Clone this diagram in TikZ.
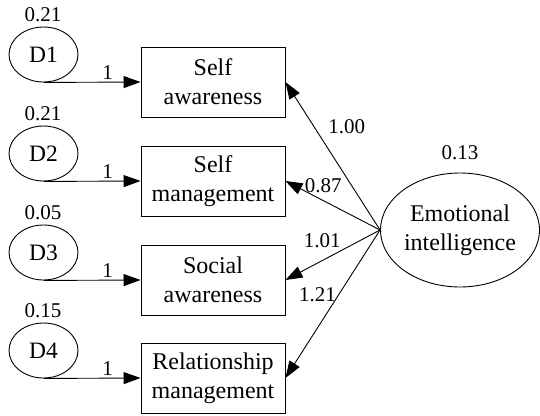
\documentclass[tikz,border=0pt]{standalone}
\usepackage{fontspec}
\setmainfont{Liberation Serif}
\usetikzlibrary{arrows.meta, positioning, shapes.geometric}

\begin{document}
\begin{tikzpicture}[x=1pt, y=-1pt, line width=0.9pt, >={Triangle[length=17pt,width=12pt]},
  box/.style={draw, rectangle, minimum width=144pt, minimum height=70pt, inner sep=0pt,
    align=center, font=\fontsize{24}{29}\selectfont},
  err/.style={draw, ellipse, minimum width=69pt, minimum height=55pt, inner sep=0pt,
    font=\fontsize{23.5}{27}\selectfont},
  est/.style={inner sep=2pt, font=\fontsize{21}{24}\selectfont}]
  \useasboundingbox (0,0) rectangle (540,415);
  % ---- latent factor ----
  \node[draw, ellipse, minimum width=159pt, minimum height=114pt, inner sep=0pt, align=center,
    font=\fontsize{24}{29}\selectfont] (ei) at (460,230) {Emotional\\intelligence};
  \node[est] (vei) at (460,153) {0.13};
  % ---- indicators, error terms and loadings ----
  \foreach \i/\y/\txt/\vr/\ld/\ps/\an/\dx/\dy in {
      1/82/{Self\\awareness}/0.21/1.00/0.70/west/12pt/0pt,
      2/181/{Self\\management}/0.21/0.87/0.60/south/0pt/5pt,
      3/280/{Social\\awareness}/0.05/1.01/0.61/south/0pt/10pt,
      4/378/{Relationship\\management}/0.15/1.21/0.44/east/0pt/0pt}{
    \node[box] (b\i) at (213,\y) {\txt};
    \node[err] (d\i) at (43.5,\y-27.5) {D\i};
    \node[est] (v\i) at (43,\y-67) {\vr};
    \draw[->] (d\i.south) -- (b\i.west) node[est, pos=0.66, above] (f\i) {1};
    \draw[->] (ei.west) -- (b\i.east)
      node[est, pos=\ps, anchor=\an, xshift=\dx, yshift=\dy] (l\i) {\ld};
  }
\end{tikzpicture}
\end{document}
